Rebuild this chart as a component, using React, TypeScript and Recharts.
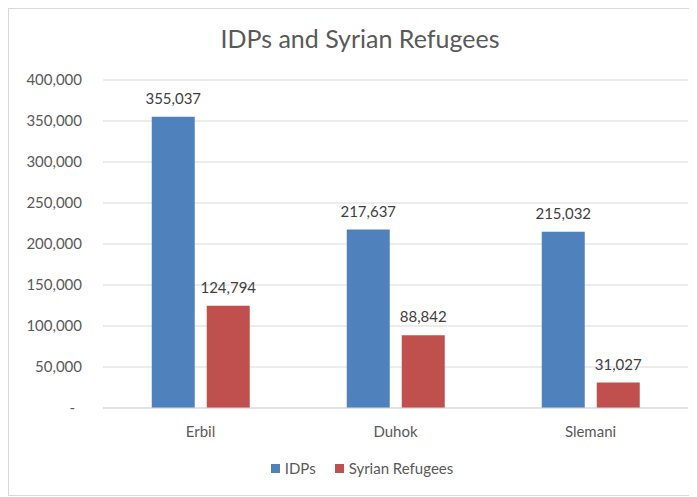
import { Bar, BarChart, CartesianGrid, LabelList, Legend, XAxis, YAxis } from "recharts"

const governorates = ["Erbil", "Duhok", "Slemani"]
const idps = [355037, 217637, 215032]
const syrianRefugees = [124794, 88842, 31027]
const yTicks = [0, 50000, 100000, 150000, 200000, 250000, 300000, 350000, 400000]

const FONT = "Lato, 'Open Sans', sans-serif"
const BLUE = "#4f81bd"
const RED = "#c0504d"

const chartData = governorates.map((name, i) => ({
  name,
  idps: idps[i],
  refugees: syrianRefugees[i],
}))

const fmt = (v: number) => v.toLocaleString("en-US")

// Excel accounting format shows zero as a dash, set a bit left of the numbers
function YTick(props: any) {
  const { x, y, payload } = props
  const isZero = payload.value === 0
  return (
    <text
      x={isZero ? x - 7 : x}
      y={y}
      dy="0.355em"
      textAnchor="end"
      fontSize={15}
      fontFamily={FONT}
      fill="#595959"
    >
      {isZero ? "-" : fmt(payload.value)}
    </text>
  )
}

function LegendContent() {
  const items = [
    { label: "IDPs", color: BLUE },
    { label: "Syrian Refugees", color: RED },
  ]
  return (
    <div
      style={{
        display: "flex",
        justifyContent: "center",
        alignItems: "center",
        height: 20,
        paddingLeft: 27,
        gap: 19,
        fontFamily: FONT,
        fontSize: 15,
        color: "#595959",
      }}
    >
      {items.map((it) => (
        <div key={it.label} style={{ display: "flex", alignItems: "center", gap: 5 }}>
          <span style={{ width: 9, height: 9, background: it.color, display: "inline-block" }} />
          <span>{it.label}</span>
        </div>
      ))}
    </div>
  )
}

export default function App() {
  return (
    <div
      style={{
        position: "relative",
        width: 688,
        height: 486,
        borderLeft: "1px solid #d9d9d9",
        borderTop: "1px solid #d9d9d9",
        borderBottom: "1px solid #d9d9d9",
        background: "#fff",
      }}
    >
      <div
        style={{
          position: "absolute",
          top: 14,
          left: 0,
          width: 688,
          paddingLeft: 14,
          boxSizing: "border-box",
          textAlign: "center",
          fontFamily: FONT,
          fontSize: 25,
          lineHeight: "30px",
          color: "#595959",
        }}
      >
        IDPs and Syrian Refugees
      </div>
      <BarChart
        width={688}
        height={486}
        data={chartData}
        margin={{ top: 71, right: 9, left: 0, bottom: 17 }}
        barCategoryGap="25%"
        barGap={12}
      >
        <CartesianGrid vertical={false} stroke="#d9d9d9" />
        <XAxis
          dataKey="name"
          height={50}
          tickLine={false}
          axisLine={{ stroke: "#d9d9d9" }}
          tickMargin={12}
          tick={{ fontSize: 15, fontFamily: FONT, fill: "#595959" }}
        />
        <YAxis
          width={94}
          domain={[0, 400000]}
          ticks={yTicks}
          axisLine={false}
          tickLine={false}
          tickMargin={15}
          tick={<YTick />}
        />
        <Legend verticalAlign="bottom" content={<LegendContent />} />
        <Bar dataKey="idps" name="IDPs" fill={BLUE} isAnimationActive={false}>
          <LabelList
            dataKey="idps"
            position="top"
            offset={13}
            formatter={(v: any) => fmt(Number(v))}
            style={{ fontSize: 15, fontFamily: FONT, fill: "#404040" }}
          />
        </Bar>
        <Bar dataKey="refugees" name="Syrian Refugees" fill={RED} isAnimationActive={false}>
          <LabelList
            dataKey="refugees"
            position="top"
            offset={13}
            formatter={(v: any) => fmt(Number(v))}
            style={{ fontSize: 15, fontFamily: FONT, fill: "#404040" }}
          />
        </Bar>
      </BarChart>
    </div>
  )
}
